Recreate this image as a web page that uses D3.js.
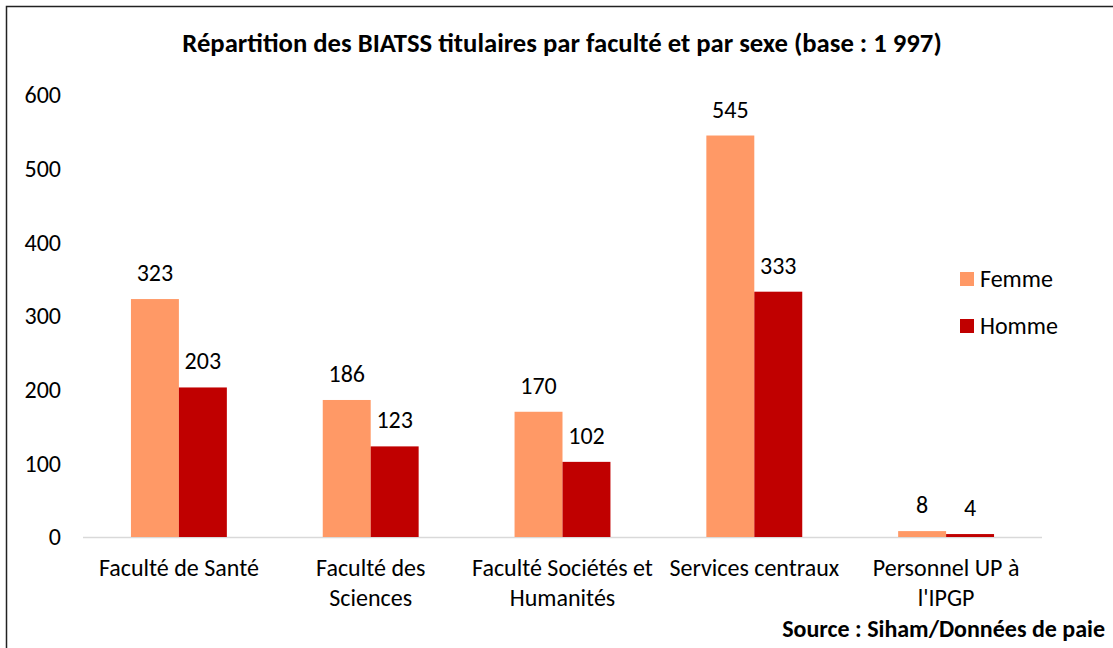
<!DOCTYPE html>
<html>
<head>
<meta charset="utf-8">
<script src="https://cdn.jsdelivr.net/npm/d3@7"></script>
<style>
  body { margin: 0; background: #fff; }
  svg { display: block; font-family: Carlito, Lato, "Open Sans", sans-serif; }
</style>
</head>
<body>
<svg id="chart"></svg>
<script>
// data
const categories = ['Faculté de Santé', 'Faculté des Sciences', 'Faculté Sociétés et Humanités', 'Services centraux', "Personnel UP à l'IPGP"]
const femme = [323, 186, 170, 545, 8]
const homme = [203, 123, 102, 333, 4]
const series = ['Femme', 'Homme']
const colors = ['#FF9966', '#C00000']
const yTicks = [0, 100, 200, 300, 400, 500, 600]

const W = 1113, H = 648
const fs = 24
const svg = d3.select('#chart').attr('width', W).attr('height', H)

// outer frame
svg.append('rect')
  .attr('x', 6.5).attr('y', 6.5).attr('width', W + 10).attr('height', H + 10)
  .attr('fill', 'none').attr('stroke', '#222').attr('stroke-width', 1.5)

svg.append('text')
  .attr('x', 562).attr('y', 52)
  .attr('text-anchor', 'middle')
  .attr('font-size', 26.7).attr('font-weight', 'bold').attr('fill', '#000')
  .text('Répartition des BIATSS titulaires par faculté et par sexe (base : 1 997)')

const x = d3.scaleBand().domain(categories).range([83, 1042]).paddingInner(0.5).paddingOuter(0.25)
const xs = d3.scaleBand().domain(series).range([0, x.bandwidth()])
const y = d3.scaleLinear().domain([0, 600]).range([537, 95])

// y tick labels, no axis line
const yAxis = svg.append('g').attr('transform', 'translate(73,0)')
  .call(d3.axisLeft(y).tickValues(yTicks).tickSize(0).tickPadding(12))
  .attr('font-family', null).attr('font-size', null)
yAxis.select('.domain').remove()
yAxis.selectAll('text').attr('font-size', fs).attr('fill', '#000')

// baseline
svg.append('line')
  .attr('x1', 83).attr('x2', 1042).attr('y1', y(0) + 0.5).attr('y2', y(0) + 0.5)
  .attr('stroke', '#d9d9d9').attr('stroke-width', 1.5)

const rows = categories.map((c, i) => ({ cat: c, vals: [femme[i], homme[i]] }))

const groups = svg.selectAll('.grp').data(rows).join('g')
  .attr('class', 'grp')
  .attr('transform', d => `translate(${x(d.cat)},0)`)

groups.selectAll('rect').data(d => d.vals.map((v, k) => ({ s: series[k], v, k })))
  .join('rect')
  .attr('x', d => xs(d.s))
  .attr('width', xs.bandwidth())
  .attr('y', d => y(d.v))
  .attr('height', d => Math.max(y(0) - y(d.v), 2))
  .attr('fill', d => colors[d.k])

groups.selectAll('text.val').data(d => d.vals.map((v, k) => ({ s: series[k], v, k })))
  .join('text')
  .attr('class', 'val')
  .attr('x', d => xs(d.s) + xs.bandwidth() / 2)
  .attr('y', d => Math.min(y(d.v), y(0) - 2) - 18)
  .attr('text-anchor', 'middle')
  .attr('font-size', fs).attr('fill', '#000')
  .text(d => d.v)

// category labels, wrapped
function wrap(sel, width) {
  sel.each(function () {
    const t = d3.select(this)
    const words = t.text().split(' ')
    t.text(null)
    let line = []
    let tspan = t.append('tspan').attr('x', 0).attr('dy', 0)
    words.forEach(w => {
      line.push(w)
      tspan.text(line.join(' '))
      if (tspan.node().getComputedTextLength() > width && line.length > 1) {
        line.pop()
        tspan.text(line.join(' '))
        line = [w]
        tspan = t.append('tspan').attr('x', 0).attr('dy', 30).text(w)
      }
    })
  })
}

svg.selectAll('.cat').data(categories).join('text')
  .attr('class', 'cat')
  .attr('transform', d => `translate(${x(d) + x.bandwidth() / 2},576)`)
  .attr('text-anchor', 'middle')
  .attr('font-size', fs).attr('fill', '#000')
  .text(d => d)
  .call(wrap, 188)

// legend
const lg = svg.selectAll('.lg').data(series).join('g')
  .attr('class', 'lg')
  .attr('transform', (d, i) => `translate(960,${272 + i * 47})`)
lg.append('rect').attr('width', 14).attr('height', 14).attr('fill', (d, i) => colors[i])
lg.append('text').attr('x', 20).attr('y', 15).attr('font-size', fs).attr('fill', '#000').text(d => d)

svg.append('text')
  .attr('x', 1105).attr('y', 637)
  .attr('text-anchor', 'end')
  .attr('font-size', 24).attr('font-weight', 'bold').attr('fill', '#000')
  .text('Source : Siham/Données de paie')
</script>
</body>
</html>
